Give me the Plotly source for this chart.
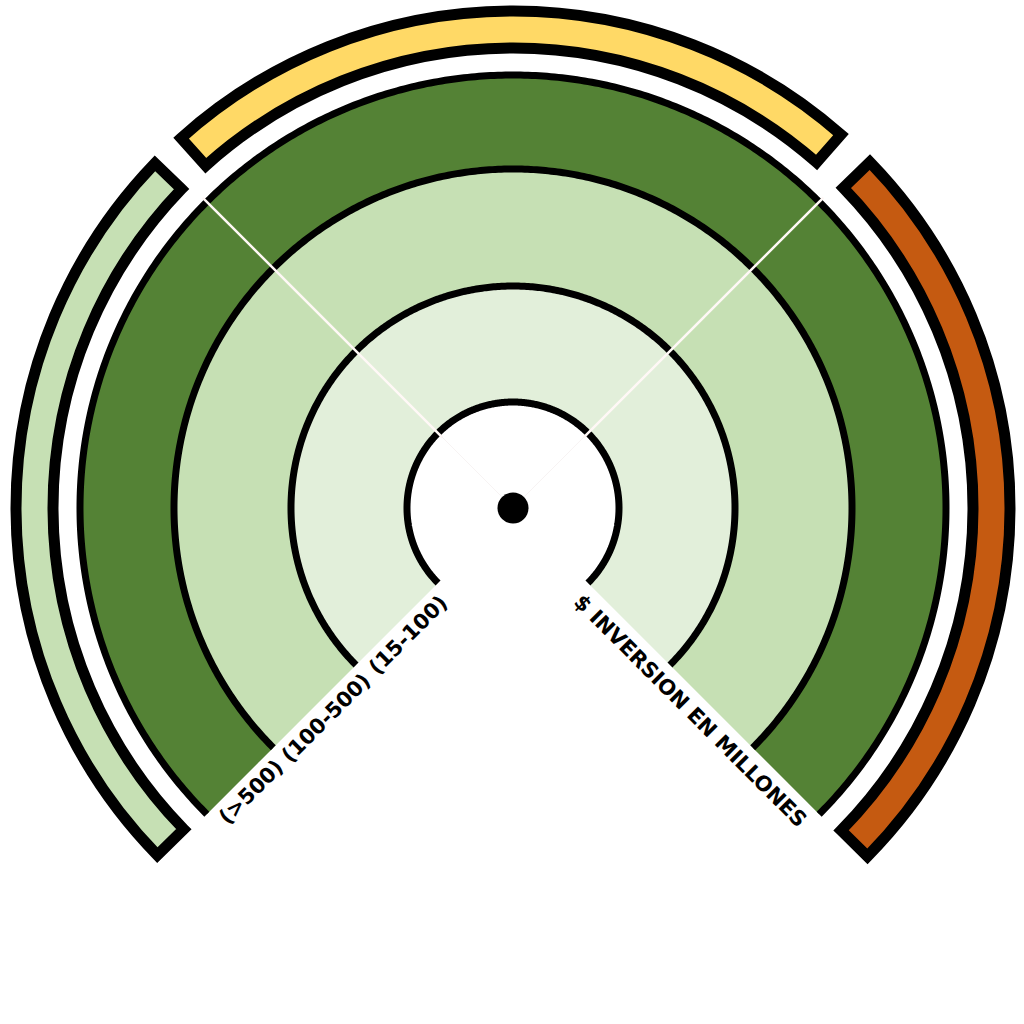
import numpy as np
import plotly.graph_objects as go

# ---------------- data ----------------
ring_labels = ["(15-100)", "(100-500)", "(>500)"]
ring_edges = [106, 222, 339, 433]          # radial boundaries of the three rings
ring_colors = ["#E2EFDA", "#C6E0B4", "#548235"]
ring_theta_start = -45
ring_theta_end = 225
divider_angles = [45, 135]

band_names = ["Izquierda", "Arriba", "Derecha"]
band_theta_start = [136.1, 48.7, -44.5]
band_theta_end = [224.3, 131.9, 44.1]
band_inner = [460, 460, 460]
band_outer = [497, 497, 497]
band_colors = ["#C6E0B4", "#FFD966", "#C55A11"]

axis_title = "$ INVERSION EN MILLONES"

# ---------------- layout geometry ----------------
W = H = 1024
R_MAX = 508
CX, CY = 513, 508   # pixel centre (from top-left)

fig = go.Figure()

# ring fills
for i in range(len(ring_labels)):
    fig.add_trace(go.Barpolar(
        r=[ring_edges[i + 1] - ring_edges[i]],
        base=[ring_edges[i]],
        theta=[(ring_theta_start + ring_theta_end) / 2],
        width=[ring_theta_end - ring_theta_start],
        marker=dict(color=ring_colors[i], line=dict(width=0)),
        name=ring_labels[i], hoverinfo="skip", showlegend=False))

# outer bands
for i in range(len(band_names)):
    fig.add_trace(go.Barpolar(
        r=[band_outer[i] - band_inner[i]],
        base=[band_inner[i]],
        theta=[(band_theta_start[i] + band_theta_end[i]) / 2],
        width=[band_theta_end[i] - band_theta_start[i]],
        marker=dict(color=band_colors[i], line=dict(color="black", width=11)),
        name=band_names[i], hoverinfo="skip", showlegend=False))

# black arcs at ring boundaries
arc_theta = np.linspace(ring_theta_start, ring_theta_end, 541)
for e in ring_edges:
    fig.add_trace(go.Scatterpolar(
        r=np.full(arc_theta.shape, e), theta=arc_theta, mode="lines",
        line=dict(color="black", width=7), hoverinfo="skip", showlegend=False))

# faint lines inside the inner circle
for a in divider_angles:
    fig.add_trace(go.Scatterpolar(
        r=[0, ring_edges[0]], theta=[a, a], mode="lines",
        line=dict(color="rgba(240,232,232,0.5)", width=1),
        hoverinfo="skip", showlegend=False))

# white divider lines
for a in divider_angles:
    fig.add_trace(go.Scatterpolar(
        r=[ring_edges[0] - 6, ring_edges[-1] + 6], theta=[a, a], mode="lines",
        line=dict(color="#FFF8F6", width=2.5), hoverinfo="skip", showlegend=False))

# centre dot
fig.add_trace(go.Scatterpolar(
    r=[0], theta=[0], mode="markers",
    marker=dict(color="black", size=31, line=dict(width=0)),
    hoverinfo="skip", showlegend=False))

# ---------------- labels ----------------
def to_paper(r, theta_deg, n, normal):
    t = np.radians(theta_deg)
    px = CX + r * np.cos(t) + n * normal[0]
    py = CY - r * np.sin(t) + n * normal[1]
    return px / W, 1 - py / H

label_font = dict(family="'DejaVu Sans', sans-serif", size=21,
                  color="black", weight="bold")
annotations = []
for i, lab in enumerate(ring_labels):
    rm = (ring_edges[i] + ring_edges[i + 1]) / 2
    x, y = to_paper(rm, ring_theta_end, 16, (0.7071, 0.7071))
    annotations.append(dict(text=lab, x=x, y=y, xref="paper", yref="paper",
                            showarrow=False, textangle=-45, font=label_font,
                            xanchor="center", yanchor="middle"))
x, y = to_paper(269, ring_theta_start, 18, (-0.7071, 0.7071))
annotations.append(dict(text=axis_title, x=x, y=y, xref="paper", yref="paper",
                        showarrow=False, textangle=45, font=label_font,
                        xanchor="center", yanchor="middle"))

fig.update_layout(
    width=W, height=H,
    margin=dict(l=0, r=0, t=0, b=0),
    paper_bgcolor="white",
    plot_bgcolor="white",
    polar=dict(
        domain=dict(x=[(CX - R_MAX) / W, (CX + R_MAX) / W],
                    y=[(H - CY - R_MAX) / H, (H - CY + R_MAX) / H]),
        bgcolor="white",
        barmode="overlay",
        hole=0,
        radialaxis=dict(range=[0, R_MAX], visible=False, showgrid=False),
        angularaxis=dict(visible=False, showgrid=False, direction="counterclockwise",
                         rotation=0),
    ),
    annotations=annotations,
)

fig.write_html("out.html")
